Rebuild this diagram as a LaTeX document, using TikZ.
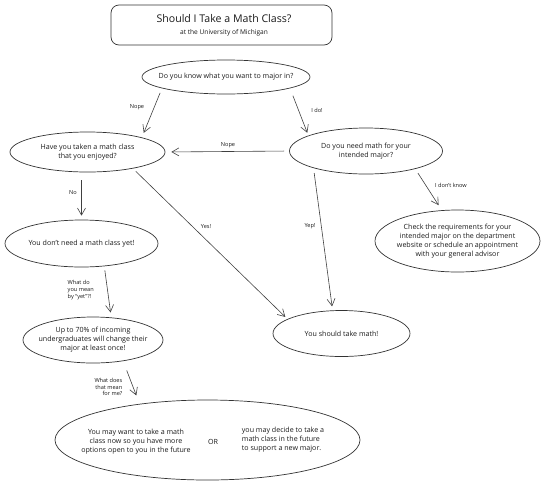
\documentclass[tikz,border=0pt]{standalone}
\usepackage{fontspec}
\setmainfont{Open Sans}
\usetikzlibrary{shapes.geometric,arrows.meta}
\begin{document}
\begin{tikzpicture}[x=1pt,y=-1pt,
  ink/.style={draw=black!80, line width=0.7pt},
  bubble/.style={ink, ellipse, inner sep=0pt},
  bodytext/.style={font=\fontsize{7.1}{9}\selectfont, align=center, text=black!90},
  lbl/.style={font=\fontsize{5.6}{6.8}\selectfont, text=black!90, inner sep=0pt},
  arr/.style={draw=black!75, line width=0.6pt, -{Straight Barb[length=7pt,width=8pt]}, shorten <=3pt, shorten >=3pt},
]
\useasboundingbox (0,0) rectangle (559,488);

% title
\node[ink, rounded corners=8pt, minimum width=221pt, minimum height=40pt] (title) at (221.5,25) {};
\node[font=\fontsize{10.6}{12}\selectfont, text=black!90] (ttext) at (224,19) {Should I Take a Math Class?};
\node[font=\fontsize{6.6}{8}\selectfont, text=black!90] (tsub) at (224,33) {at the University of Michigan};

% bubbles
\node[bubble, minimum width=168pt, minimum height=34pt,
  label={[bodytext]center:{Do you know what you want to major in?}}] (q1) at (226,77) {};
\node[bubble, minimum width=155pt, minimum height=40pt,
  label={[bodytext]center:{Have you taken a math class\\that you enjoyed?}}] (q2) at (87.5,152) {};
\node[bubble, minimum width=153pt, minimum height=46pt,
  label={[bodytext]center:{Do you need math for your\\intended major?}}] (q3) at (366,151) {};
\node[bubble, minimum width=153pt, minimum height=47pt,
  label={[bodytext]center:{You don't need a math class yet!}}] (q4) at (81.5,243.5) {};
\node[bubble, minimum width=140pt, minimum height=46pt,
  label={[bodytext]center:{Up to 70\% of incoming\\undergraduates will change their\\major at least once!}}] (q5) at (93,340) {};
\node[bubble, minimum width=305pt, minimum height=80pt] (q6) at (207.5,440) {};
\node[bodytext] (q6l) at (136,441.7) {You may want to take a math\\class now so you have more\\options open to you in the future};
\node[bodytext] (q6or) at (213,441.7) {OR};
\node[bodytext, align=left, anchor=west, inner sep=0pt] (q6r) at (241.7,439.3) {you may decide to take a\\math class in the future\\to support a new major.};
\node[bubble, minimum width=137pt, minimum height=46pt,
  label={[bodytext]center:{You should take math!}}] (q7) at (341.5,333.5) {};
\node[bubble, minimum width=165pt, minimum height=62pt,
  label={[bodytext]center:{Check the requirements for your\\intended major on the department\\website or schedule an appointment\\with your general advisor}}] (q8) at (457.5,241) {};

% connectors
\draw[arr, shorten <=5pt, shorten >=5pt] (q1.190) -- (q2.15);
\draw[arr, shorten <=8pt] (q1.350) -- (q3.165);
\draw[arr, shorten <=5pt, shorten >=6pt] (q3.180) -- (q2.0);
\draw[arr, shorten <=8pt, shorten >=4pt] (q4.north |- q2.south) -- (q4.north);
\draw[arr, shorten <=4pt, shorten >=5pt] (q4.315) -- (q5.51);
\draw[arr, shorten <=10pt, shorten >=9pt] (q5.325) -- (q6.152);
\draw[arr, shorten <=4pt, shorten >=3pt] (q2.340) -- (q7.165);
\draw[arr, shorten <=5pt, shorten >=4pt] (q3.198) -- (q7.111);
\draw[arr, shorten <=5pt, shorten >=6pt] (q3.340) -- (q8.117);

% connector labels
\node[lbl] (l1) at (137,107) {Nope};
\node[lbl] (l2) at (317,110) {I do!};
\node[lbl] (l3) at (228,145) {Nope};
\node[lbl] (l4) at (73,193) {No};
\node[lbl, align=left, anchor=west] (l5) at (67.5,290) {What do\\you mean\\by ``yet''?!};
\node[lbl, align=right, anchor=east] (l6) at (122.5,387) {What does\\that mean\\for me?};
\node[lbl] (l7) at (206,227) {Yes!};
\node[lbl] (l8) at (310,226) {Yep!};
\node[lbl] (l9) at (451,185) {I don't know};
\end{tikzpicture}
\end{document}
